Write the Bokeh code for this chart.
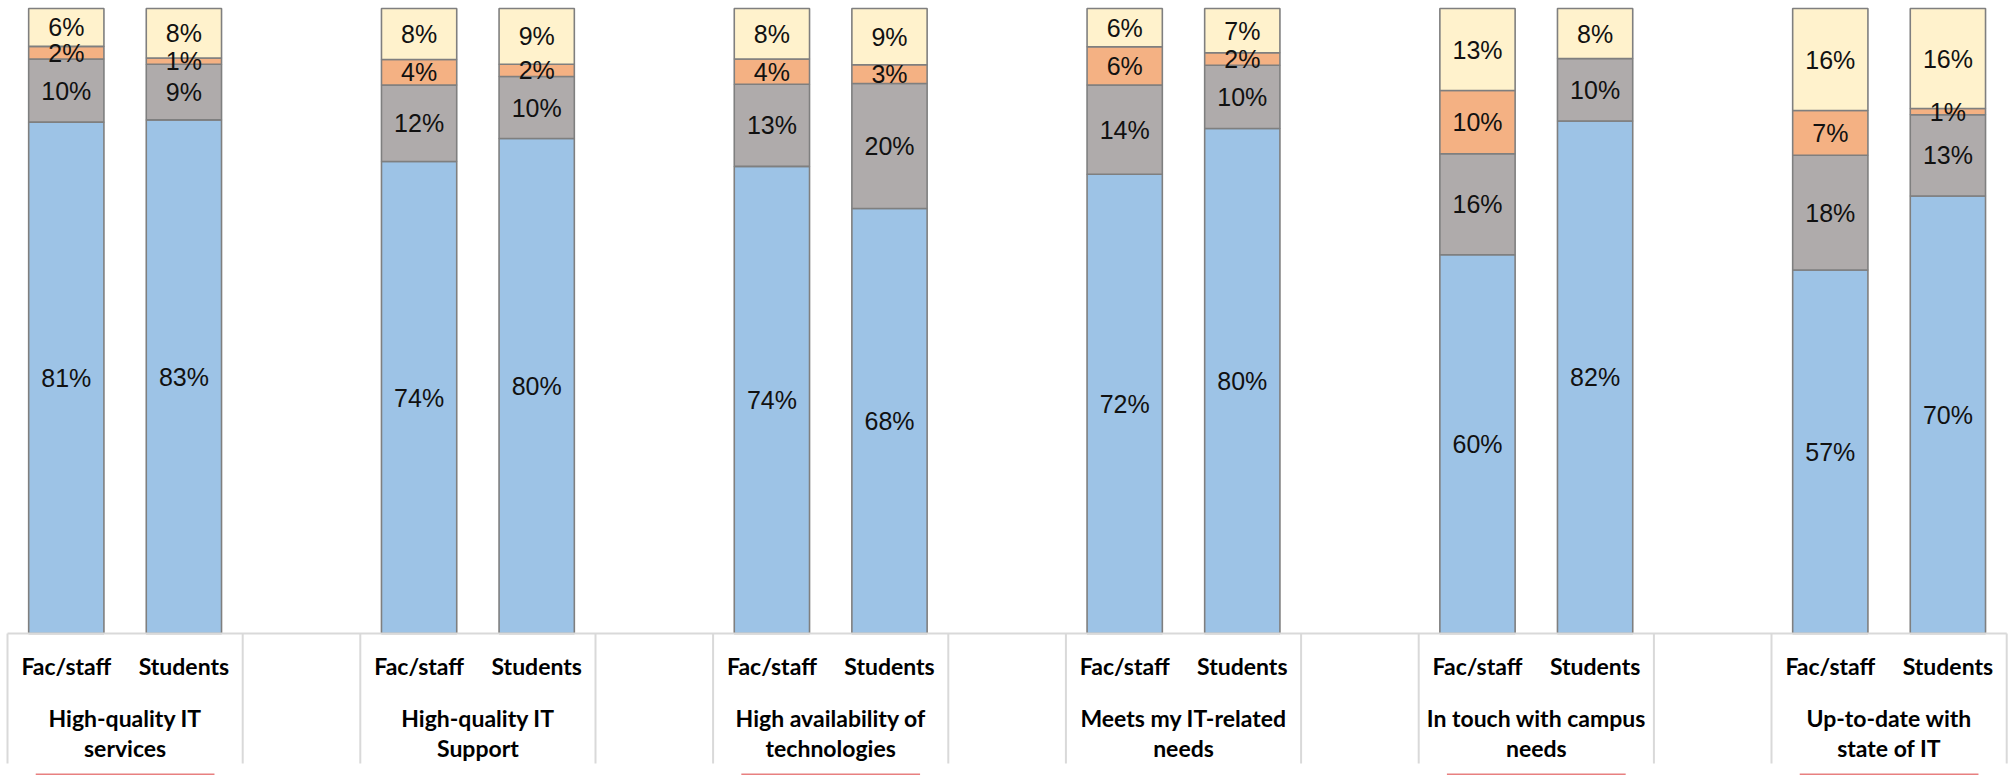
import numpy as np
from bokeh.plotting import figure
from bokeh.models import Range1d, ColumnDataSource
from bokeh.core.properties import value
from bokeh.embed import file_html
from bokeh.resources import INLINE

# ---------------- data ----------------
group_line1 = ["High-quality IT", "High-quality IT", "High availability of",
               "Meets my IT-related", "In touch with campus", "Up-to-date with"]
group_line2 = ["services", "Support", "technologies", "needs", "needs", "state of IT"]
respondents = ["Fac/staff", "Students"]

# order of bars: group1 Fac/staff, group1 Students, group2 Fac/staff, ...
agree    = [81, 83, 74, 80, 74, 68, 72, 80, 60, 82, 57, 70]
neutral  = [10,  9, 12, 10, 13, 20, 14, 10, 16, 10, 18, 13]
disagree = [ 2,  1,  4,  2,  4,  3,  6,  2, 10,  0,  7,  1]
unsure   = [ 6,  8,  8,  9,  8,  9,  6,  7, 13,  8, 16, 16]
highlighted_groups = [0, 2, 4, 5]

series = [agree, neutral, disagree, unsure]
colors = ["#9DC3E6", "#AFABAB", "#F4B183", "#FFF2CC"]

# ---------------- layout helpers ----------------
W, H = 2011, 775
cat_px = 117.6          # pixel width of one category slot
x0_px = 7               # left edge of first slot
base_px = 633           # pixel row of 0 %
top_px = 8              # pixel row of 100 %
ppu = (base_px - top_px) / 100.0

x_range = Range1d(-x0_px / cat_px, (W - x0_px) / cat_px)
y_range = Range1d(-(H - base_px) / ppu, base_px / ppu)

p = figure(width=W, height=H, x_range=x_range, y_range=y_range,
           x_axis_type=None, y_axis_type=None, output_backend="svg",
           toolbar_location=None, min_border=0)
p.outline_line_color = None
p.background_fill_color = "white"
p.border_fill_color = "white"

n_bars = len(agree)
xs = [3 * (k // 2) + (k % 2) + 0.5 for k in range(n_bars)]
vals = np.array(series, dtype=float)          # shape (4, n_bars)
totals = vals.sum(axis=0)
shares = vals / totals * 100.0
tops = np.cumsum(shares, axis=0)
bottoms = tops - shares

for i, col in enumerate(colors):
    src = ColumnDataSource(dict(x=xs, bottom=bottoms[i], top=tops[i]))
    p.vbar(x="x", width=0.64, bottom="bottom", top="top", source=src,
           fill_color=col, line_color="#7F7F7F", line_width=1.6)

lx, ly, lt = [], [], []
for i in range(len(series)):
    for k in range(n_bars):
        if series[i][k] > 0:
            lx.append(xs[k])
            ly.append((bottoms[i][k] + tops[i][k]) / 2)
            lt.append(f"{series[i][k]}%")
p.text(x=lx, y=ly, text=lt, text_font=value("Liberation Sans"),
       text_font_size="25px", text_align="center", text_baseline="middle",
       text_color="#111111")

# ---------------- category table ----------------
n_groups = len(group_line1)
last = 3 * n_groups - 1
tab_bottom = -(763 - base_px) / ppu
p.segment(x0=[0], y0=[0], x1=[last], y1=[0], line_color="#D9D9D9", line_width=2)
vx = []
for g in range(n_groups):
    vx += [3 * g, 3 * g + 2]
p.segment(x0=vx, y0=[0] * len(vx), x1=vx, y1=[tab_bottom] * len(vx),
          line_color="#D9D9D9", line_width=2)

sub_y = -(665 - base_px) / ppu
p.text(x=xs, y=[sub_y] * n_bars, text=[respondents[k % 2] for k in range(n_bars)],
       text_font=value("Lato"), text_font_style="bold", text_font_size="23px",
       text_align="center", text_baseline="middle", text_color="black")

gx = [3 * g + 1 for g in range(n_groups)]
g1_y = -(717 - base_px) / ppu
g2_y = -(747 - base_px) / ppu
p.text(x=gx, y=[g1_y] * n_groups, text=group_line1,
       text_font=value("Lato"), text_font_style="bold", text_font_size="23px",
       text_align="center", text_baseline="middle", text_color="black")
p.text(x=gx, y=[g2_y] * n_groups, text=group_line2,
       text_font=value("Lato"), text_font_style="bold", text_font_size="23px",
       text_align="center", text_baseline="middle", text_color="black")

# red highlight edges at the bottom
red_y = -(774 - base_px) / ppu
hx0 = [3 * g + 1 - 0.76 for g in highlighted_groups]
hx1 = [3 * g + 1 + 0.76 for g in highlighted_groups]
p.segment(x0=hx0, y0=[red_y] * len(hx0), x1=hx1, y1=[red_y] * len(hx0),
          line_color="#E88080", line_width=2)

open("out.html", "w").write(file_html(p, INLINE))
